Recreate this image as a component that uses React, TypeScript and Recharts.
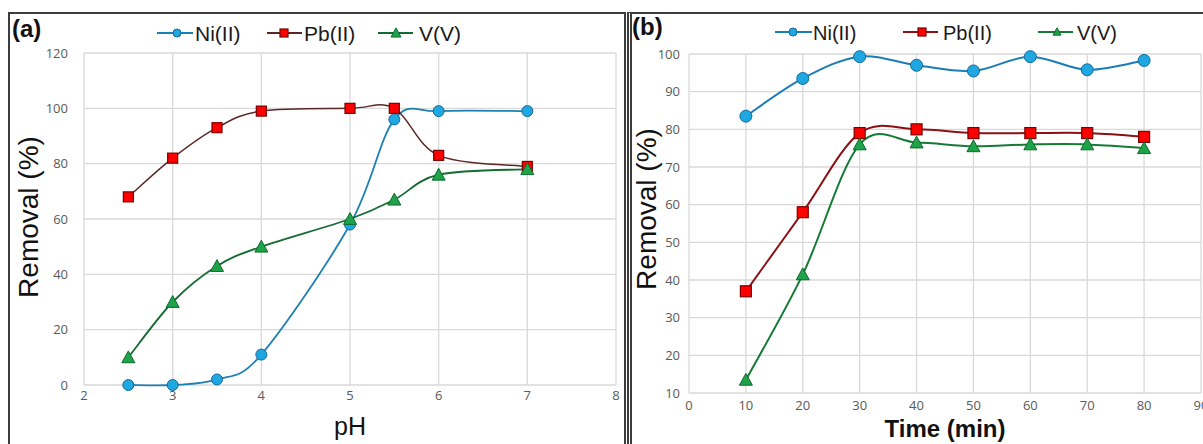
import React from "react";
import { CartesianGrid, Line, LineChart, XAxis, YAxis } from "recharts";

// pH study (panel a)
const phValues = [2.5, 3, 3.5, 4, 5, 5.5, 6, 7];
const niByPh = [0, 0, 2, 11, 58, 96, 99, 99];
const pbByPh = [68, 82, 93, 99, 100, 100, 83, 79];
const vByPh = [10, 30, 43, 50, 60, 67, 76, 78];
const phTicks = [2, 3, 4, 5, 6, 7, 8];
const phRemovalTicks = [0, 20, 40, 60, 80, 100, 120];

// contact time study (panel b)
const timeValues = [10, 20, 30, 40, 50, 60, 70, 80];
const niByTime = [83.5, 93.5, 99.3, 97, 95.5, 99.3, 95.8, 98.3];
const pbByTime = [37, 58, 79, 80, 79, 79, 79, 78];
const vByTime = [13.5, 41.5, 76, 76.5, 75.5, 76, 76, 75];
const timeTicks = [0, 10, 20, 30, 40, 50, 60, 70, 80, 90];
const timeRemovalTicks = [10, 20, 30, 40, 50, 60, 70, 80, 90, 100];

const seriesNames = ["Ni(II)", "Pb(II)", "V(V)"];

const phData = phValues.map((ph, i) => ({ ph, ni: niByPh[i], pb: pbByPh[i], v: vByPh[i] }));
const timeData = timeValues.map((t, i) => ({ t, ni: niByTime[i], pb: pbByTime[i], v: vByTime[i] }));

const TICK = { fill: "#595959", fontSize: 13, fontFamily: "Open Sans" };
const GRID = "#d9d9d9";

// excel-like smoothed line (catmull-rom through the points)
function excelCurve(context: any) {
  let pts: number[][] = [];
  return {
    areaStart() {},
    areaEnd() {},
    lineStart() {
      pts = [];
    },
    point(x: number, y: number) {
      pts.push([+x, +y]);
    },
    lineEnd() {
      const n = pts.length;
      if (!n) return;
      context.moveTo(pts[0][0], pts[0][1]);
      for (let i = 0; i < n - 1; i++) {
        const p0 = pts[i - 1] || pts[i];
        const p1 = pts[i];
        const p2 = pts[i + 1];
        const p3 = pts[i + 2] || p2;
        context.bezierCurveTo(
          p1[0] + (p2[0] - p0[0]) / 6,
          p1[1] + (p2[1] - p0[1]) / 6,
          p2[0] - (p3[0] - p1[0]) / 6,
          p2[1] - (p3[1] - p1[1]) / 6,
          p2[0],
          p2[1]
        );
      }
    },
  };
}

const NI = { fill: "#1ea7e1", stroke: "#17699c" };
const PB = { fill: "#ff0000", stroke: "#7a0000" };
const VV = { fill: "#1fa34a", stroke: "#0d6a2c" };

function marker(kind: string, cx: number, cy: number, s: number, key?: any) {
  if (kind === "ni")
    return <circle key={key} cx={cx} cy={cy} r={s / 2} fill={NI.fill} stroke={NI.stroke} strokeWidth={1} />;
  if (kind === "pb")
    return (
      <rect key={key} x={cx - s / 2} y={cy - s / 2} width={s} height={s} fill={PB.fill} stroke={PB.stroke} strokeWidth={1.2} />
    );
  const h = s * 0.9;
  return (
    <polygon
      key={key}
      points={`${cx},${cy - h / 2 - 1} ${cx + s / 2 + 0.5},${cy + h / 2} ${cx - s / 2 - 0.5},${cy + h / 2}`}
      fill={VV.fill}
      stroke={VV.stroke}
      strokeWidth={1}
    />
  );
}

const dotOf = (kind: string, s: number) => (p: any) => marker(kind, p.cx, p.cy, s, p.index);

function LegendRow({ items, y, size, colors }: any) {
  return (
    <g>
      {items.map((it: any, i: number) => (
        <g key={i}>
          <line x1={it.x1} x2={it.x2} y1={y} y2={y} stroke={colors[i]} strokeWidth={2} />
          {marker(it.kind, it.mx, y, it.s)}
          <text x={it.tx} y={y + 8} fontSize={size} fontFamily="Liberation Sans" fill="#1a1a1a">
            {seriesNames[i]}
          </text>
        </g>
      ))}
    </g>
  );
}

export default function App() {
  return (
    <div style={{ position: "fixed", left: 0, top: 0, width: 1203, height: 444, background: "#fff", overflow: "hidden" }}>
      {/* panel frames */}
      <div style={{ position: "absolute", left: 8, top: 12, width: 614, height: 460, border: "2px solid #3c3c3c" }} />
      <div style={{ position: "absolute", left: 627, top: 12, width: 600, height: 460, borderLeft: "5px double #3c3c3c", borderTop: "2px solid #3c3c3c" }} />

      <div style={{ position: "absolute", left: 0, top: 0 }}>
        <LineChart width={630} height={444} data={phData} margin={{ top: 53, right: 14, left: 0, bottom: 0 }}>
          <CartesianGrid stroke={GRID} strokeWidth={1.3} />
          <XAxis
            dataKey="ph"
            type="number"
            domain={[2, 8]}
            ticks={phTicks}
            interval={0}
            axisLine={false}
            tickLine={false}
            tickSize={0}
            tickMargin={6}
            height={59}
            tick={TICK}
          />
          <YAxis
            type="number"
            domain={[0, 120]}
            ticks={phRemovalTicks}
            interval={0}
            width={84}
            axisLine={false}
            tickLine={false}
            tickSize={0}
            tickMargin={16}
            tick={TICK}
          />
          <Line type={excelCurve as any} dataKey="ni" stroke="#1d80b3" strokeWidth={1.8} dot={dotOf("ni", 11)} activeDot={false} isAnimationActive={false} />
          <Line type={excelCurve as any} dataKey="pb" stroke="#5c2626" strokeWidth={1.5} dot={dotOf("pb", 10)} activeDot={false} isAnimationActive={false} />
          <Line type={excelCurve as any} dataKey="v" stroke="#166b33" strokeWidth={1.8} dot={dotOf("v", 12)} activeDot={false} isAnimationActive={false} />
        </LineChart>
      </div>

      <div style={{ position: "absolute", left: 628, top: 0 }}>
        <LineChart width={575} height={444} data={timeData} margin={{ top: 54, right: 2, left: 0, bottom: 0 }}>
          <CartesianGrid stroke={GRID} strokeWidth={1.3} />
          <XAxis
            dataKey="t"
            type="number"
            domain={[0, 90]}
            ticks={timeTicks}
            interval={0}
            axisLine={false}
            tickLine={false}
            tickSize={0}
            tickMargin={8}
            height={51}
            tick={TICK}
          />
          <YAxis
            type="number"
            domain={[10, 100]}
            ticks={timeRemovalTicks}
            interval={0}
            width={61}
            axisLine={false}
            tickLine={false}
            tickSize={0}
            tickMargin={9}
            tick={TICK}
          />
          <Line type={excelCurve as any} dataKey="ni" stroke="#1b7db5" strokeWidth={2} dot={dotOf("ni", 12)} activeDot={false} isAnimationActive={false} />
          <Line type={excelCurve as any} dataKey="pb" stroke="#8c0f14" strokeWidth={2} dot={dotOf("pb", 11)} activeDot={false} isAnimationActive={false} />
          <Line type={excelCurve as any} dataKey="v" stroke="#157a36" strokeWidth={2} dot={dotOf("v", 12)} activeDot={false} isAnimationActive={false} />
        </LineChart>
      </div>

      {/* titles, legends */}
      <svg width={1203} height={444} style={{ position: "absolute", left: 0, top: 0, pointerEvents: "none" }}>
        <text x={12} y={37} fontSize={24} fontWeight="bold" fontFamily="Liberation Sans" fill="#111">(a)</text>
        <text x={632} y={35} fontSize={24} fontWeight="bold" fontFamily="Liberation Sans" fill="#111">(b)</text>

        <LegendRow
          y={33}
          size={21}
          colors={["#1d80b3", "#5c2626", "#166b33"]}
          items={[
            { kind: "ni", x1: 157, x2: 193, mx: 177, tx: 195, s: 8 },
            { kind: "pb", x1: 267, x2: 302, mx: 284, tx: 304, s: 8 },
            { kind: "v", x1: 378, x2: 413, mx: 396, tx: 419, s: 9 },
          ]}
        />
        <LegendRow
          y={32}
          size={20}
          colors={["#1b7db5", "#8c0f14", "#157a36"]}
          items={[
            { kind: "ni", x1: 775, x2: 812, mx: 793, tx: 813, s: 8 },
            { kind: "pb", x1: 903, x2: 938, mx: 922, tx: 943, s: 8 },
            { kind: "v", x1: 1038, x2: 1073, mx: 1057, tx: 1077, s: 7 },
          ]}
        />

        <text x={38} y={217} transform="rotate(-90 38 217)" textAnchor="middle" fontSize={28} fontFamily="Liberation Sans" fill="#111">
          Removal (%)
        </text>
        <text x={656} y={209} transform="rotate(-90 656 209)" textAnchor="middle" fontSize={28} fontFamily="Liberation Sans" fill="#111">
          Removal (%)
        </text>
        <text x={350} y={435} textAnchor="middle" fontSize={25} fontFamily="Liberation Sans" fill="#111">pH</text>
        <text x={945} y={437} textAnchor="middle" fontSize={24} fontWeight="bold" fontFamily="Liberation Sans" fill="#111">Time (min)</text>
      </svg>
    </div>
  );
}
